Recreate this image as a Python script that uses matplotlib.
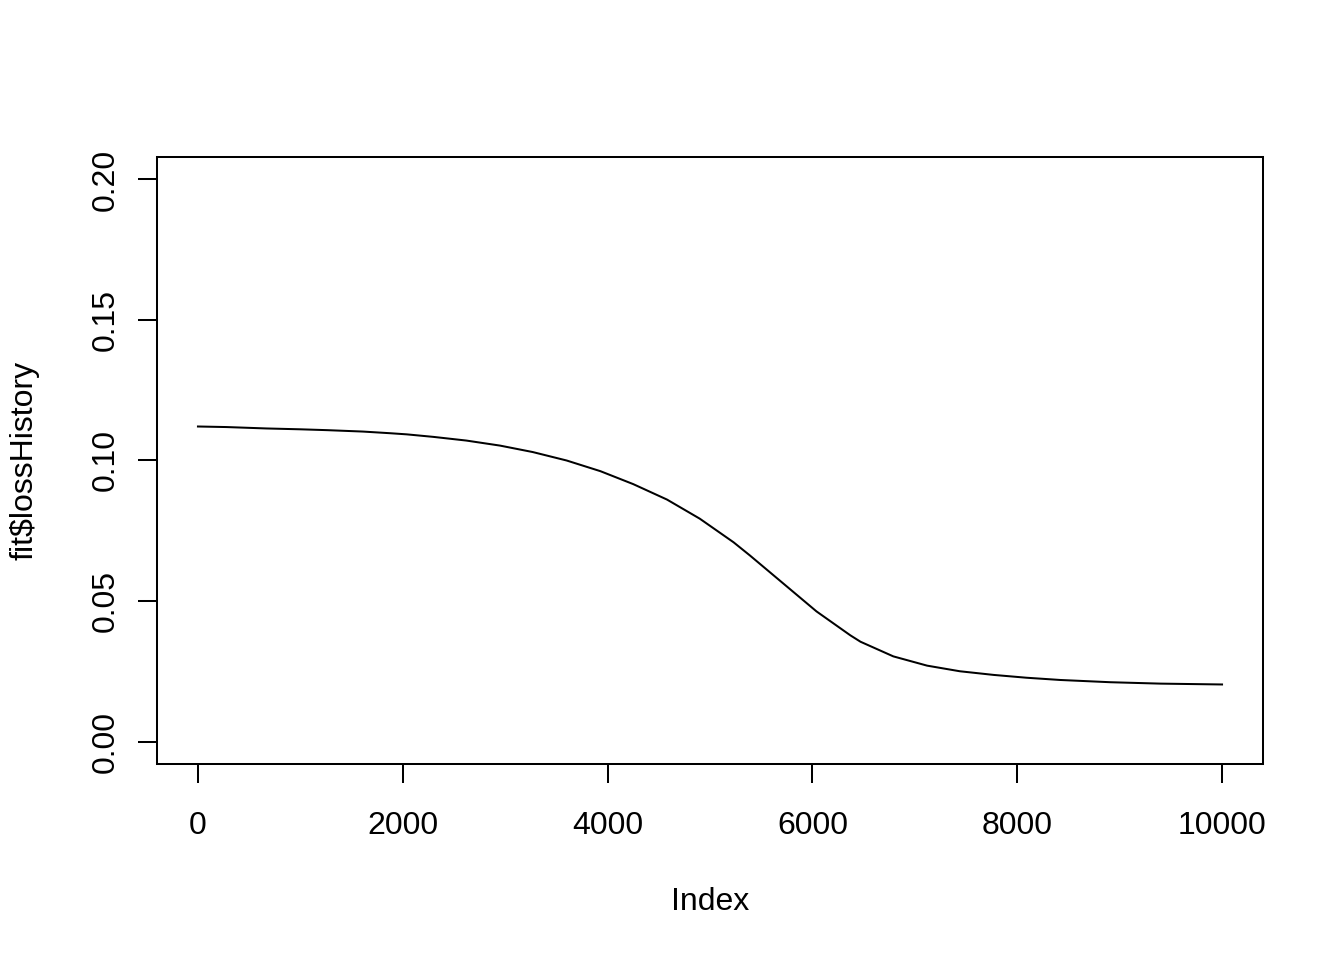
import numpy as np
import matplotlib.pyplot as plt

plt.rcParams['font.family'] = ['Liberation Sans', 'DejaVu Sans']

# loss history (index, loss)
index = [0, 280, 670, 1000, 1260, 1610, 1880, 2040, 2300, 2620, 2950,
         3270, 3600, 3930, 4250, 4580, 4900, 5230, 5390, 5720, 6040,
         6370, 6470, 6790, 7120, 7440, 7770, 8090, 8420, 8910, 9400, 10000]
loss = [0.1121, 0.1119, 0.1114, 0.1111, 0.1108, 0.1103, 0.1097, 0.1093,
        0.1084, 0.1071, 0.1053, 0.1030, 0.1000, 0.0962, 0.0916, 0.0861,
        0.0793, 0.0709, 0.0662, 0.0561, 0.0463, 0.0378, 0.0355, 0.0303,
        0.0270, 0.0250, 0.0237, 0.0227, 0.0219, 0.0211, 0.0206, 0.0203]

x_ticks = [0, 2000, 4000, 6000, 8000, 10000]
y_ticks = [0.00, 0.05, 0.10, 0.15, 0.20]
y_tick_labels = ["0.00", "0.05", "0.10", "0.15", "0.20"]

fig = plt.figure(figsize=(13.44, 9.6), dpi=100)
ax = fig.add_axes([157 / 1344, 1 - 764 / 960, 1106 / 1344, 607 / 960])

ax.plot(index, loss, color="black", lw=1.45, solid_joinstyle="round")

ax.set_xlim(-400, 10400)
ax.set_ylim(-0.008, 0.208)
ax.set_xticks(x_ticks)
ax.set_xticklabels([str(t) for t in x_ticks])
ax.set_yticks(y_ticks)
ax.set_yticklabels(y_tick_labels, rotation=90, va="center")

for s in ax.spines.values():
    s.set_linewidth(1.45)

ax.tick_params(axis="both", direction="out", length=13.8, width=1.45,
               labelsize=23, color="black")
ax.tick_params(axis="x", pad=20)
ax.tick_params(axis="y", pad=12)

ax.set_xlabel("Index", fontsize=23)
ax.set_ylabel(r"fit\$lossHistory", fontsize=23)
ax.xaxis.set_label_coords(0.5, (764 - 902) / 607)
ax.yaxis.set_label_coords((25 - 157) / 1106, 0.5)
ax.xaxis.label.set_va("center")
ax.yaxis.label.set_va("center")

fig.savefig("out.png", dpi=100)
